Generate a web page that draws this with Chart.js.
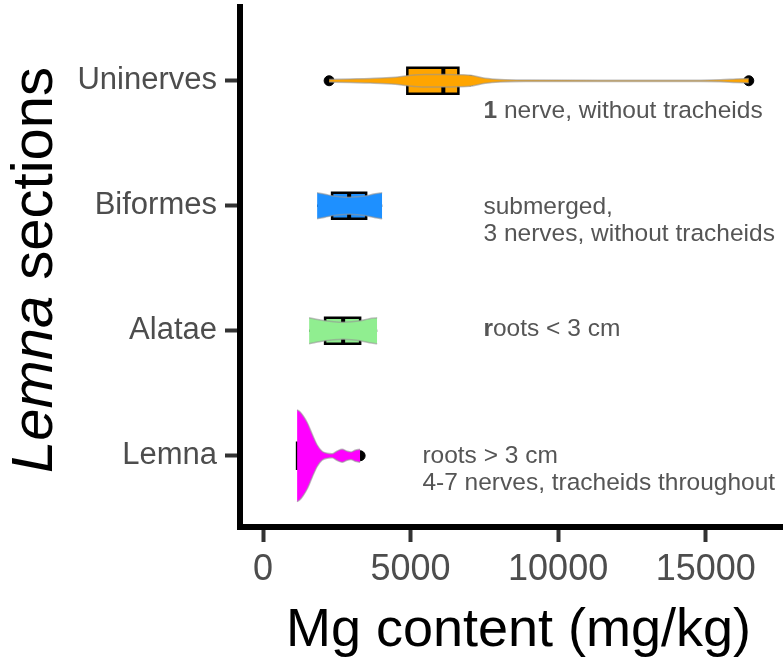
<!DOCTYPE html>
<html>
<head>
<meta charset="utf-8">
<script src="https://cdn.jsdelivr.net/npm/chart.js@4.4.0/dist/chart.umd.min.js"></script>
<style>
  html, body { margin: 0; padding: 0; background: #fff; }
  #wrap { width: 783px; height: 664px; position: relative; }
</style>
</head>
<body>
<div id="wrap"><canvas id="chart"></canvas></div>
<script>
// rows from bottom (y = 1) to top (y = 4)
const sections = ["Lemna", "Alatae", "Biformes", "Uninerves"];
const fillColors = ["#ff00ff", "#90ee90", "#1e90ff", "#ffa500"];

// box stats, Mg in mg/kg
const whiskerLow = [1154, 1561, 1832, 4720];
const q1 = [1154, 2104, 2341, 4890];
const median = [1330, 2715, 2918, 6110];
const q3 = [1663, 3291, 3495, 6620];
const whiskerHigh = [1663, 3868, 4038, 6620];

// violin outlines: Mg value + half width (row units)
const lemnaX = [1154, 1250, 1357, 1500, 1660, 1830, 2000, 2170, 2340, 2500, 2680, 2850, 2980, 3120, 3291];
const lemnaW = [0.368, 0.352, 0.32, 0.264, 0.176, 0.088, 0.036, 0.02, 0.016, 0.036, 0.052, 0.036, 0.03, 0.044, 0.052];
const alataeX = [1561, 1800, 2104, 2400, 2715, 3000, 3291, 3600, 3868];
const alataeW = [0.104, 0.092, 0.08, 0.072, 0.068, 0.072, 0.08, 0.096, 0.104];
const biformesX = [1832, 2100, 2341, 2600, 2918, 3200, 3495, 3800, 4038];
const biformesW = [0.104, 0.092, 0.08, 0.072, 0.068, 0.072, 0.08, 0.096, 0.104];
const uninervesX = [2240, 2950, 3630, 4480, 4890, 5500, 6100, 6620, 7020, 7530, 8040, 9060, 11440, 14830, 15510, 16020, 16460];
const uninervesW = [0.01, 0.014, 0.018, 0.028, 0.04, 0.05, 0.05, 0.048, 0.044, 0.02, 0.01, 0.006, 0.005, 0.005, 0.008, 0.014, 0.018];

// single observations drawn as dots
const pointX = [1700, 2680, 3291, 2240, 7020, 16460];
const pointRow = [1, 1, 1, 4, 4, 4];

const xTicks = [0, 5000, 10000, 15000];

// side notes: [bold part, rest]
const noteLines = [
  [["", "roots > 3 cm"], ["", "4-7 nerves, tracheids throughout"]],
  [["r", "oots < 3 cm"]],
  [["", "submerged,"], ["", "3 nerves, without tracheids"]],
  [["1", " nerve, without tracheids"]],
];

const FONT = "'Liberation Sans', Arial, Helvetica, sans-serif";
const BOX_HALF = 0.104;

const violinXs = [lemnaX, alataeX, biformesX, uninervesX];
const violinWs = [lemnaW, alataeW, biformesW, uninervesW];

const datasets = [];
violinXs.forEach((xs, i) => {
  const row = i + 1;
  const common = {
    type: "line",
    borderColor: "rgba(150,150,150,0.6)",
    borderWidth: 1.5,
    pointRadius: 0,
    cubicInterpolationMode: "monotone",
    backgroundColor: fillColors[i],
  };
  datasets.push({ ...common, label: "v" + i + "a", fill: false,
    data: xs.map((v, k) => ({ x: v, y: row + violinWs[i][k] })) });
  datasets.push({ ...common, label: "v" + i + "b", fill: "-1",
    data: xs.map((v, k) => ({ x: v, y: row - violinWs[i][k] })) });
});
datasets.push({
  type: "scatter",
  label: "points",
  data: pointX.map((v, k) => ({ x: v, y: pointRow[k] })),
  backgroundColor: "#000",
  borderColor: "#000",
  pointRadius: 5,
});

// boxes go between violins and dots
const boxPlugin = {
  id: "boxes",
  beforeDatasetDraw(chart, args) {
    if (chart.data.datasets[args.index].label !== "points") return;
    const { ctx, scales: { x, y } } = chart;
    ctx.save();
    sections.forEach((name, i) => {
      const row = i + 1;
      const yt = y.getPixelForValue(row + BOX_HALF);
      const yb = y.getPixelForValue(row - BOX_HALF);
      const ym = y.getPixelForValue(row);
      const x1 = x.getPixelForValue(q1[i]);
      const x3 = x.getPixelForValue(q3[i]);
      ctx.strokeStyle = "#000";
      ctx.lineWidth = 2.5;
      ctx.beginPath();
      ctx.moveTo(x.getPixelForValue(whiskerLow[i]), ym);
      ctx.lineTo(x1, ym);
      ctx.moveTo(x3, ym);
      ctx.lineTo(x.getPixelForValue(whiskerHigh[i]), ym);
      ctx.stroke();
      ctx.fillStyle = fillColors[i];
      ctx.fillRect(x1, yt, x3 - x1, yb - yt);
      ctx.strokeRect(x1, yt, x3 - x1, yb - yt);
      ctx.lineWidth = 4;
      const xm = x.getPixelForValue(median[i]);
      ctx.beginPath();
      ctx.moveTo(xm, yt);
      ctx.lineTo(xm, yb);
      ctx.stroke();
    });
    ctx.restore();
  },
};

// notes, axis titles (y title has italic genus)
const textPlugin = {
  id: "texts",
  afterDraw(chart) {
    const { ctx, scales: { x, y }, chartArea } = chart;
    ctx.save();
    const noteX = [5400, 7470, 7470, 7470];
    const noteDy = [7, 5, 8, 37];
    ctx.fillStyle = "#555";
    ctx.textBaseline = "alphabetic";
    noteLines.forEach((lines, i) => {
      let yy = y.getPixelForValue(i + 1) + noteDy[i];
      lines.forEach(([b, rest]) => {
        let xx = x.getPixelForValue(noteX[i]);
        if (b) {
          ctx.font = "bold 24.5px " + FONT;
          ctx.fillText(b, xx, yy);
          xx += ctx.measureText(b).width;
        }
        ctx.font = "24.5px " + FONT;
        ctx.fillText(rest, xx, yy);
        yy += 27;
      });
    });

    // x title, centred on the full panel (it runs past the right edge)
    ctx.fillStyle = "#000";
    ctx.font = "54px " + FONT;
    ctx.textAlign = "center";
    ctx.fillText("Mg content (mg/kg)", (chartArea.left + chartArea.right) / 2 + 7, 646);
    ctx.textAlign = "left";

    ctx.translate(52, (chartArea.top + chartArea.bottom) / 2 + 3);
    ctx.rotate(-Math.PI / 2);
    ctx.font = "italic 58px " + FONT;
    const w1 = ctx.measureText("Lemna").width;
    ctx.font = "58px " + FONT;
    const w2 = ctx.measureText(" sections").width;
    const start = -(w1 + w2) / 2;
    ctx.font = "italic 58px " + FONT;
    ctx.fillText("Lemna", start, 0);
    ctx.font = "58px " + FONT;
    ctx.fillText(" sections", start + w1, 0);
    ctx.restore();
  },
};

new Chart(document.getElementById("chart"), {
  data: { datasets },
  options: {
    responsive: true,
    maintainAspectRatio: false,
    animation: false,
    layout: { autoPadding: false, padding: { top: 7, right: 0, left: 0, bottom: 0 } },
    plugins: { legend: { display: false }, tooltip: { enabled: false } },
    scales: {
      x: {
        type: "linear",
        min: -780,
        max: 17620,
        afterBuildTicks: (s) => { s.ticks = xTicks.map((v) => ({ value: v })); },
        afterFit: (s) => { s.height = 137; s.paddingLeft = 0; s.paddingRight = 0; },
        border: { display: true, color: "#000", width: 6 },
        grid: { drawOnChartArea: false, tickLength: 15, tickWidth: 4, tickColor: "#333" },
        ticks: { color: "#4d4d4d", font: { family: FONT, size: 36 }, padding: 6, maxRotation: 0,
          callback: (v) => String(v) },
      },
      y: {
        type: "linear",
        min: 0.43,
        max: 4.59,
        afterBuildTicks: (s) => { s.ticks = [1, 2, 3, 4].map((v) => ({ value: v })); },
        afterFit: (s) => { s.width = 240; s.paddingTop = 0; s.paddingBottom = 0; },
        border: { display: true, color: "#000", width: 6 },
        grid: { drawOnChartArea: false, tickLength: 15, tickWidth: 4, tickColor: "#333" },
        ticks: { color: "#4d4d4d", font: { family: FONT, size: 31 }, padding: 8,
          callback: (v) => sections[v - 1] },
      },
    },
  },
  plugins: [boxPlugin, textPlugin],
});
</script>
</body>
</html>
